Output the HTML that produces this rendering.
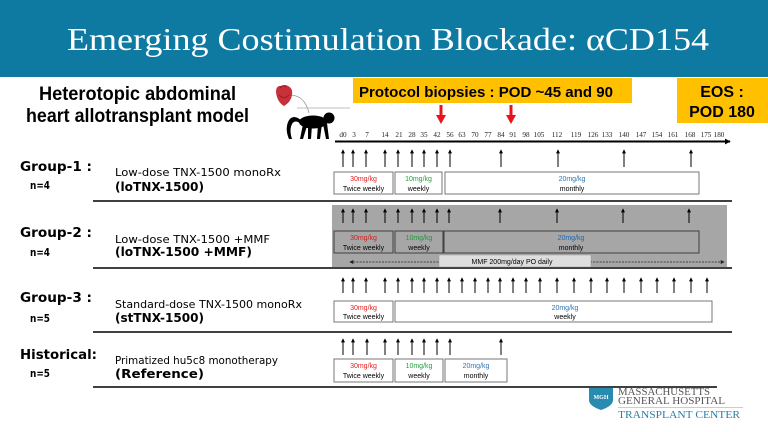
<!DOCTYPE html>
<html><head><meta charset="utf-8"><style>
html,body{margin:0;padding:0;background:#fff;}
svg{display:block;}
</style></head><body>
<svg width="768" height="432" viewBox="0 0 768 432" xmlns="http://www.w3.org/2000/svg">
<defs>
<marker id="up" viewBox="0 0 6 6" refX="5" refY="3" markerWidth="4" markerHeight="4" orient="auto" markerUnits="userSpaceOnUse"><path d="M0,0 L6,3 L0,6 z" fill="#000"/></marker>
<marker id="tl" viewBox="0 0 8 8" refX="7" refY="4" markerWidth="6" markerHeight="6" orient="auto" markerUnits="userSpaceOnUse"><path d="M0,0 L8,4 L0,8 z" fill="#000"/></marker>
<marker id="da" viewBox="0 0 6 6" refX="5" refY="3" markerWidth="4" markerHeight="4" orient="auto-start-reverse" markerUnits="userSpaceOnUse"><path d="M0,0 L6,3 L0,6 z" fill="#222"/></marker>
</defs>

<!-- header -->
<rect x="0" y="0" width="768" height="77" fill="#0e7aa1"/>
<text x="67" y="50" font-family="Liberation Serif, serif" font-size="32" fill="#fff" textLength="642" lengthAdjust="spacingAndGlyphs">Emerging Costimulation Blockade: αCD154</text>

<!-- heading -->
<g font-family="Liberation Sans, sans-serif" font-weight="bold" font-size="19" fill="#000">
<text x="39" y="100" textLength="197" lengthAdjust="spacingAndGlyphs">Heterotopic abdominal</text>
<text x="26" y="122" textLength="223" lengthAdjust="spacingAndGlyphs">heart allotransplant model</text>
</g>

<!-- heart & monkey -->
<path d="M291,95 Q305,96 309,113" fill="none" stroke="#999" stroke-width="0.8"/>
<line x1="297" y1="108" x2="350" y2="108" stroke="#aaa" stroke-width="0.8"/>
<path d="M276,92 Q276,85 282,86 Q285,84 288,86 Q293,88 292,95 Q291,102 284,106 Q277,102 276,92 z" fill="#c8303a"/>
<path d="M280,88 Q283,84 286,87" fill="none" stroke="#8a1a20" stroke-width="1"/>
<path d="M279,95 Q284,100 289,95" fill="none" stroke="#8a1a20" stroke-width="0.8"/>
<!-- monkey -->
<g fill="#000">
<circle cx="329" cy="118" r="5.5"/>
<ellipse cx="313" cy="122" rx="14" ry="6.5"/>
<path d="M301,120 Q292,113 288,122 Q285,130 289,139 L292,139 Q289,130 292,124 Q295,119 301,124 z"/>
<path d="M323,124 L326,139 L329,139 L327,123 z"/>
<path d="M318,124 L317,139 L320,139 L322,124 z"/>
<path d="M303,124 L300,139 L303,139 L307,126 z"/>
<path d="M308,125 L308,139 L311,139 L312,125 z"/>
</g>

<!-- yellow boxes -->
<rect x="353" y="78" width="279" height="25" fill="#ffc000"/>
<text x="359" y="97" font-family="Liberation Sans, sans-serif" font-weight="bold" font-size="15" textLength="254" lengthAdjust="spacingAndGlyphs">Protocol biopsies : POD ~45 and 90</text>
<rect x="677" y="78" width="91" height="45" fill="#ffc000"/>
<g font-family="Liberation Sans, sans-serif" font-weight="bold" font-size="16" text-anchor="middle">
<text x="722" y="97">EOS :</text>
<text x="722" y="117">POD 180</text>
</g>

<!-- red arrows -->
<g fill="#e8141c" stroke="none">
<rect x="439.5" y="105" width="3" height="11"/><path d="M436,115 L446,115 L441,124 z"/>
<rect x="509.5" y="105" width="3" height="11"/><path d="M506,115 L516,115 L511,124 z"/>
</g>

<!-- timeline labels -->
<g font-family="Liberation Serif, serif" font-size="7.2" text-anchor="middle" fill="#222">
<text x="343" y="137">d0</text><text x="354" y="137">3</text><text x="367" y="137">7</text><text x="385" y="137">14</text>
<text x="399" y="137">21</text><text x="412" y="137">28</text><text x="424" y="137">35</text><text x="437" y="137">42</text>
<text x="450" y="137">56</text><text x="462" y="137">63</text><text x="475" y="137">70</text><text x="488" y="137">77</text>
<text x="501" y="137">84</text><text x="513" y="137">91</text><text x="526" y="137">98</text><text x="539" y="137">105</text>
<text x="557" y="137">112</text><text x="576" y="137">119</text><text x="593" y="137">126</text><text x="607" y="137">133</text>
<text x="624" y="137">140</text><text x="641" y="137">147</text><text x="657" y="137">154</text><text x="673" y="137">161</text>
<text x="690" y="137">168</text><text x="706" y="137">175</text><text x="719" y="137">180</text>
</g>
<line x1="335" y1="141.5" x2="730" y2="141.5" stroke="#000" stroke-width="2" marker-end="url(#tl)"/>

<!-- group separators -->
<g stroke="#000" stroke-width="1.5">
<line x1="93" y1="201" x2="732" y2="201"/>
<line x1="93" y1="268" x2="732" y2="268"/>
<line x1="93" y1="332" x2="732" y2="332"/>
<line x1="93" y1="387" x2="717" y2="387"/>
</g>

<!-- left labels -->
<g font-family="DejaVu Sans, sans-serif" fill="#000">
<g font-weight="bold" font-size="13.5">
<text x="20" y="171" textLength="72" lengthAdjust="spacingAndGlyphs">Group-1 :</text>
<text x="20" y="237" textLength="72" lengthAdjust="spacingAndGlyphs">Group-2 :</text>
<text x="20" y="302" textLength="72" lengthAdjust="spacingAndGlyphs">Group-3 :</text>
<text x="20" y="359" textLength="77" lengthAdjust="spacingAndGlyphs">Historical:</text>
</g>
<g font-weight="bold" font-size="10.5">
<text x="30" y="189" textLength="20" lengthAdjust="spacingAndGlyphs">n=4</text>
<text x="30" y="256" textLength="20" lengthAdjust="spacingAndGlyphs">n=4</text>
<text x="30" y="322" textLength="20" lengthAdjust="spacingAndGlyphs">n=5</text>
<text x="30" y="377" textLength="20" lengthAdjust="spacingAndGlyphs">n=5</text>
</g>
<g font-size="11">
<text x="115" y="176" textLength="166" lengthAdjust="spacingAndGlyphs">Low-dose TNX-1500 monoRx</text>
<text x="115" y="243" textLength="155" lengthAdjust="spacingAndGlyphs">Low-dose TNX-1500 +MMF</text>
<text x="115" y="308" textLength="187" lengthAdjust="spacingAndGlyphs">Standard-dose TNX-1500 monoRx</text>
<text x="115" y="364" textLength="163" lengthAdjust="spacingAndGlyphs">Primatized hu5c8 monotherapy</text>
</g>
<g font-size="12" font-weight="bold">
<text x="115" y="191" textLength="89" lengthAdjust="spacingAndGlyphs">(loTNX-1500)</text>
<text x="115" y="256" textLength="137" lengthAdjust="spacingAndGlyphs">(loTNX-1500 +MMF)</text>
<text x="115" y="322" textLength="89" lengthAdjust="spacingAndGlyphs">(stTNX-1500)</text>
<text x="115" y="378" textLength="89" lengthAdjust="spacingAndGlyphs">(Reference)</text>
</g>
</g>

<!-- GROUP 1 -->
<g stroke="#000" stroke-width="1" marker-end="url(#up)">
<line x1="343" y1="167" x2="343" y2="150"/><line x1="353" y1="167" x2="353" y2="150"/><line x1="366" y1="167" x2="366" y2="150"/>
<line x1="385" y1="167" x2="385" y2="150"/><line x1="398" y1="167" x2="398" y2="150"/><line x1="412" y1="167" x2="412" y2="150"/>
<line x1="424" y1="167" x2="424" y2="150"/><line x1="437" y1="167" x2="437" y2="150"/><line x1="450" y1="167" x2="450" y2="150"/>
<line x1="501" y1="167" x2="501" y2="150"/><line x1="558" y1="167" x2="558" y2="150"/><line x1="624" y1="167" x2="624" y2="150"/>
<line x1="691" y1="167" x2="691" y2="150"/>
</g>
<g fill="none" stroke="#777" stroke-width="1">
<rect x="334" y="172" width="59" height="22"/><rect x="395" y="172" width="47" height="22"/><rect x="445" y="172" width="254" height="22"/>
</g>
<g font-family="Liberation Sans, sans-serif" font-size="7" text-anchor="middle">
<text x="363.5" y="181" fill="#e02020">30mg/kg</text><text x="363.5" y="191">Twice weekly</text>
<text x="418.5" y="181" fill="#22a040">10mg/kg</text><text x="418.5" y="191">weekly</text>
<text x="572" y="181" fill="#2e75b6">20mg/kg</text><text x="572" y="191">monthly</text>
</g>

<!-- GROUP 2 -->
<rect x="332" y="205" width="395" height="62" fill="#a6a6a6"/>
<g stroke="#000" stroke-width="1" marker-end="url(#up)">
<line x1="343" y1="223" x2="343" y2="209"/><line x1="353" y1="223" x2="353" y2="209"/><line x1="366" y1="223" x2="366" y2="209"/>
<line x1="385" y1="223" x2="385" y2="209"/><line x1="398" y1="223" x2="398" y2="209"/><line x1="412" y1="223" x2="412" y2="209"/>
<line x1="424" y1="223" x2="424" y2="209"/><line x1="437" y1="223" x2="437" y2="209"/><line x1="449" y1="223" x2="449" y2="209"/>
<line x1="500" y1="223" x2="500" y2="209"/><line x1="557" y1="223" x2="557" y2="209"/><line x1="623" y1="223" x2="623" y2="209"/>
<line x1="689" y1="223" x2="689" y2="209"/>
</g>
<g fill="none" stroke="#404040" stroke-width="1">
<rect x="334" y="231" width="59" height="22"/><rect x="395" y="231" width="48" height="22"/><rect x="444" y="231" width="255" height="22"/>
</g>
<g font-family="Liberation Sans, sans-serif" font-size="7" text-anchor="middle">
<text x="363.5" y="240" fill="#d02020">30mg/kg</text><text x="363.5" y="250">Twice weekly</text>
<text x="419" y="240" fill="#1f9a3c">10mg/kg</text><text x="419" y="250">weekly</text>
<text x="571" y="240" fill="#1f6aae">20mg/kg</text><text x="571" y="250">monthly</text>
</g>
<line x1="350" y1="262" x2="724" y2="262" stroke="#222" stroke-width="0.8" stroke-dasharray="2,1.2" marker-start="url(#da)" marker-end="url(#da)"/>
<rect x="439" y="255" width="152" height="12" fill="#dedede" stroke="#999" stroke-width="0.5"/>
<text x="512" y="264" font-family="Liberation Sans, sans-serif" font-size="7" text-anchor="middle">MMF 200mg/day PO daily</text>

<!-- GROUP 3 -->
<g stroke="#000" stroke-width="1" marker-end="url(#up)">
<line x1="343" y1="293" x2="343" y2="278"/><line x1="353" y1="293" x2="353" y2="278"/><line x1="366" y1="293" x2="366" y2="278"/>
<line x1="385" y1="293" x2="385" y2="278"/><line x1="398" y1="293" x2="398" y2="278"/><line x1="412" y1="293" x2="412" y2="278"/>
<line x1="424" y1="293" x2="424" y2="278"/><line x1="437" y1="293" x2="437" y2="278"/><line x1="449" y1="293" x2="449" y2="278"/>
<line x1="462" y1="293" x2="462" y2="278"/><line x1="475" y1="293" x2="475" y2="278"/><line x1="488" y1="293" x2="488" y2="278"/>
<line x1="500" y1="293" x2="500" y2="278"/><line x1="513" y1="293" x2="513" y2="278"/><line x1="526" y1="293" x2="526" y2="278"/>
<line x1="540" y1="293" x2="540" y2="278"/><line x1="557" y1="293" x2="557" y2="278"/><line x1="574" y1="293" x2="574" y2="278"/>
<line x1="591" y1="293" x2="591" y2="278"/><line x1="607" y1="293" x2="607" y2="278"/><line x1="624" y1="293" x2="624" y2="278"/>
<line x1="641" y1="293" x2="641" y2="278"/><line x1="657" y1="293" x2="657" y2="278"/><line x1="674" y1="293" x2="674" y2="278"/>
<line x1="691" y1="293" x2="691" y2="278"/><line x1="707" y1="293" x2="707" y2="278"/>
</g>
<g fill="none" stroke="#777" stroke-width="1">
<rect x="334" y="301" width="59" height="21"/><rect x="395" y="301" width="317" height="21"/>
</g>
<g font-family="Liberation Sans, sans-serif" font-size="7" text-anchor="middle">
<text x="363.5" y="310" fill="#e02020">30mg/kg</text><text x="363.5" y="319">Twice weekly</text>
<text x="565" y="310" fill="#2e75b6">20mg/kg</text><text x="565" y="319">weekly</text>
</g>

<!-- HISTORICAL -->
<g stroke="#000" stroke-width="1" marker-end="url(#up)">
<line x1="343" y1="355" x2="343" y2="339"/><line x1="353" y1="355" x2="353" y2="339"/><line x1="367" y1="355" x2="367" y2="339"/>
<line x1="385" y1="355" x2="385" y2="339"/><line x1="398" y1="355" x2="398" y2="339"/><line x1="412" y1="355" x2="412" y2="339"/>
<line x1="424" y1="355" x2="424" y2="339"/><line x1="437" y1="355" x2="437" y2="339"/><line x1="450" y1="355" x2="450" y2="339"/>
<line x1="501" y1="355" x2="501" y2="339"/>
</g>
<g fill="none" stroke="#777" stroke-width="1">
<rect x="334" y="359" width="59" height="23"/><rect x="395" y="359" width="48" height="23"/><rect x="445" y="359" width="62" height="23"/>
</g>
<g font-family="Liberation Sans, sans-serif" font-size="7" text-anchor="middle">
<text x="363.5" y="368" fill="#e02020">30mg/kg</text><text x="363.5" y="378">Twice weekly</text>
<text x="419" y="368" fill="#22a040">10mg/kg</text><text x="419" y="378">weekly</text>
<text x="476" y="368" fill="#2e75b6">20mg/kg</text><text x="476" y="378">monthly</text>
</g>

<!-- MGH logo -->
<path d="M589,388 L613,388 L613,400 Q613,406 601,410 Q589,406 589,400 z" fill="#2a8bb0"/>
<text x="601" y="399" font-family="Liberation Serif, serif" font-size="6" font-weight="bold" fill="#fff" text-anchor="middle">MGH</text>
<g font-family="Liberation Serif, serif" fill="#555">
<text x="618" y="395" font-size="10" textLength="92" lengthAdjust="spacingAndGlyphs">MASSACHUSETTS</text>
<text x="618" y="404" font-size="10" textLength="107" lengthAdjust="spacingAndGlyphs">GENERAL HOSPITAL</text>
</g>
<line x1="618" y1="407.5" x2="743" y2="407.5" stroke="#bbb" stroke-width="0.8"/>
<text x="618" y="418" font-family="Liberation Serif, serif" font-size="10" fill="#2a7fa6" textLength="122" lengthAdjust="spacingAndGlyphs">TRANSPLANT CENTER</text>
</svg>
</body></html>
